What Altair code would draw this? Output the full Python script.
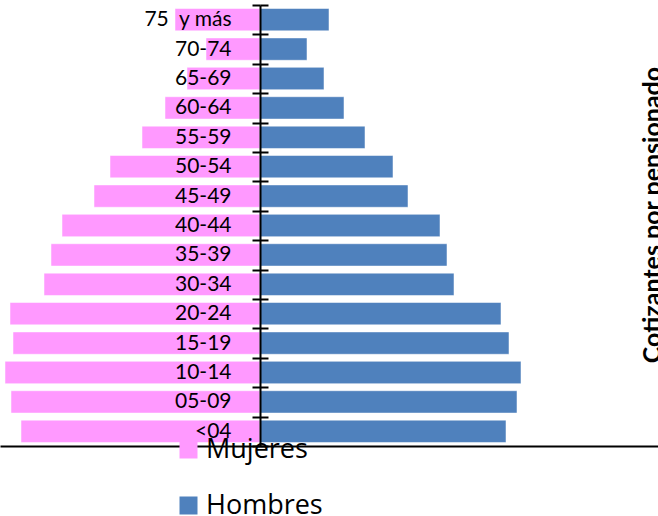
import altair as alt
import pandas as pd

# Age groups, top to bottom
grupos = ["75\u00a0 y más", "70-74", "65-69", "60-64", "55-59", "50-54", "45-49",
          "40-44", "35-39", "30-34", "20-24", "15-19", "10-14", "05-09", "<04"]
# Share of population (%) per age group
mujeres = [1.70, 1.08, 1.46, 1.90, 2.36, 3.00, 3.32, 3.96, 4.18, 4.32, 5.00, 4.94, 5.10, 4.98, 4.78]
hombres = [1.38, 0.94, 1.28, 1.68, 2.10, 2.66, 2.96, 3.60, 3.74, 3.88, 4.82, 4.98, 5.22, 5.14, 4.92]
sexos = ["Mujeres", "Hombres"]
colores = ["#FF99FF", "#4F81BD"]
titulo_derecho = "Cotizantes por pensionado"

rows = []
for g, m, h in zip(grupos, mujeres, hombres):
    rows.append({"grupo": g, "sexo": "Mujeres", "valor": -m})
    rows.append({"grupo": g, "sexo": "Hombres", "valor": h})
df = pd.DataFrame(rows)

FONT = "Lato"

x_enc = alt.X(
    "valor:Q",
    scale=alt.Scale(domain=[-5.2, 7.96], nice=False, zero=False),
    axis=alt.Axis(title=None, labels=False, ticks=False, grid=False,
                  domainColor="black", domainWidth=2),
)
y_scale = alt.Scale(paddingInner=0, paddingOuter=0)
color_enc = alt.Color(
    "sexo:N",
    scale=alt.Scale(domain=sexos, range=colores),
    legend=alt.Legend(
        title=None, orient="none", legendX=175, legendY=431, direction="vertical",
        symbolType="square", symbolSize=324, symbolStrokeWidth=0,
        labelFont="Open Sans", labelFontSize=27, labelColor="black",
        rowPadding=28, labelOffset=4, padding=0, zindex=2,
    ),
)

bar_style = dict(height={"band": 0.76}, stroke="white", strokeOpacity=0.5, strokeWidth=1)

izquierda = alt.Chart(df).transform_filter(alt.datum.sexo == "Mujeres").mark_bar(**bar_style).encode(
    x=x_enc,
    y=alt.Y("grupo:N", sort=grupos, scale=y_scale,
            axis=alt.Axis(orient="left", offset=-260, title=None, zindex=1,
                          domainColor="black", domainWidth=2,
                          tickColor="black", tickWidth=2, tickSize=8, tickBand="extent",
                          labelFont=FONT, labelFontSize=21, labelColor="black",
                          labelPadding=21)),
    color=color_enc,
)

derecha = alt.Chart(df).transform_filter(alt.datum.sexo == "Hombres").mark_bar(**bar_style).encode(
    x=x_enc,
    y=alt.Y("grupo:N", sort=grupos, scale=y_scale,
            axis=alt.Axis(orient="right", offset=-398, title=None, labels=False, zindex=1,
                          domain=False, tickColor="black", tickWidth=2, tickSize=8,
                          tickBand="extent")),
    color=color_enc,
)

titulo = alt.Chart(pd.DataFrame({"t": [titulo_derecho]})).mark_text(
    angle=270, align="center", baseline="alphabetic",
    font=FONT, fontSize=25, fontWeight="bold", color="black",
).encode(x=alt.value(661), y=alt.value(210), text="t:N")

chart = alt.layer(izquierda, derecha, titulo).resolve_axis(y="independent").properties(
    width=658, height=441,
    padding={"left": 0, "top": 5, "right": 0, "bottom": 70},
    autosize=alt.AutoSizeParams(type="none"),
).configure_view(stroke=None)

chart.save("out.html", embed_options={"renderer": "svg", "actions": False})
